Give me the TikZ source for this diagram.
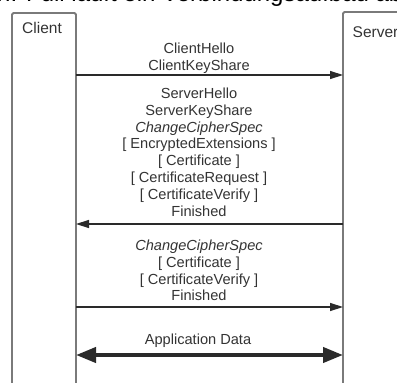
\documentclass[tikz,border=0pt]{standalone}
\usepackage{fontspec}
\setmainfont{Liberation Sans}
\usetikzlibrary{arrows.meta}
\definecolor{txt}{HTML}{333333}
\definecolor{boxc}{HTML}{7A7A7A}
\definecolor{arr}{HTML}{2A2A2A}
\tikzset{
  lifebox/.style={draw=boxc, line width=1.8pt, rounded corners=1.5pt},
  msgtext/.style={anchor=north, inner sep=0pt, align=center, text=txt,
    font=\fontsize{14.6}{16.8}\selectfont},
  partytext/.style={anchor=west, inner sep=0pt, text=txt,
    font=\fontsize{15.5}{18}\selectfont},
  msg/.style={draw=arr, line width=1.4pt, -{Triangle[length=13pt,width=8pt]}},
  bigmsg/.style={draw=arr, line width=4pt,
    {Triangle[length=20pt,width=15pt]}-{Triangle[length=20pt,width=15pt]}},
}
\begin{document}
\begin{tikzpicture}[x=1pt,y=-1pt]
\useasboundingbox (0,0) rectangle (397,383);
% heading of the page above, mostly cut off by the top edge
\node[anchor=base west, inner sep=0pt, font=\fontsize{24}{28}\selectfont] (head) at (-3,1) {n. Full läuft ein Verbindungsaufbau ab};
% lifeline boxes (open at the bottom)
\draw[lifebox] (12,386) -- (12,13) -- (76,13) -- (76,386);
\draw[lifebox] (343,386) -- (343,12) -- (400,12);
\coordinate (cl1) at (76,75);  \coordinate (sv1) at (343,75);
\coordinate (cl2) at (76,224); \coordinate (sv2) at (343,224);
\coordinate (cl3) at (76,307); \coordinate (sv3) at (343,307);
\coordinate (cl4) at (76,355); \coordinate (sv4) at (343,355);
\node[partytext] (client) at (22,27.5) {Client};
\node[partytext] (server) at (352.5,32.5) {Server};
% messages
\node[msgtext] (m1) at (199,41.5) {\strut ClientHello\\\strut ClientKeyShare};
\draw[msg] (cl1) -- (sv1);
\node[msgtext] (m2) at (199,86.5) {\strut ServerHello\\\strut ServerKeyShare\\\strut\textit{ChangeCipherSpec}\\\strut[ EncryptedExtensions ]\\\strut[ Certificate ]\\\strut[ CertificateRequest ]\\\strut[ CertificateVerify ]\\\strut Finished};
\draw[msg] (sv2) -- (cl2);
\node[msgtext] (m3) at (199,238.5) {\strut\textit{ChangeCipherSpec}\\\strut[ Certificate ]\\\strut[ CertificateVerify ]\\\strut Finished};
\draw[msg] (cl3) -- (sv3);
\node[msgtext] (m4) at (198,332.5) {\strut Application Data};
\draw[bigmsg] (cl4) -- (sv4);
\end{tikzpicture}
\end{document}
